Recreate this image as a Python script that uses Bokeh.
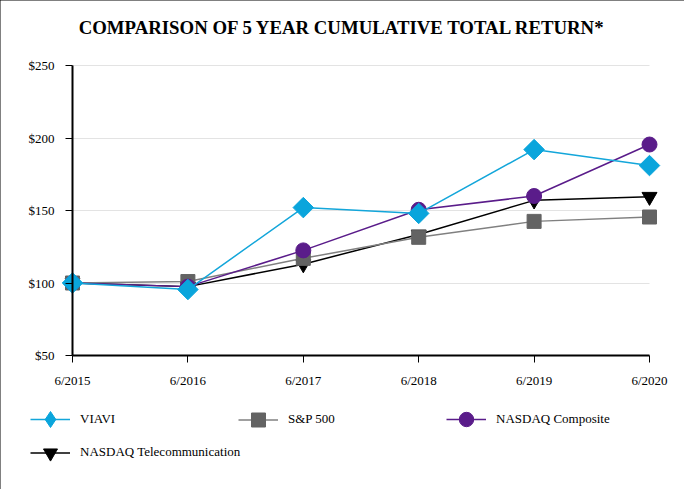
import math
from bokeh.plotting import figure
from bokeh.models import (FixedTicker, PrintfTickFormatter, Legend, LegendItem, Range1d, Label)
from bokeh.embed import file_html
from bokeh.resources import INLINE

years = [2015, 2016, 2017, 2018, 2019, 2020]
year_labels = ["6/2015", "6/2016", "6/2017", "6/2018", "6/2019", "6/2020"]
viavi = [100, 95.5, 152, 148, 192, 181]
sp500 = [100, 101, 117, 131.5, 142.5, 145.5]
nasdaq_comp = [100, 97.5, 122.5, 150.5, 160, 195.5]
nasdaq_tel = [100, 97.5, 113, 133.5, 157, 159.5]
y_ticks = [50, 100, 150, 200, 250]
series_names = ["VIAVI", "S&P 500", "NASDAQ Composite", "NASDAQ Telecommunication"]
title_text = "COMPARISON OF 5 YEAR CUMULATIVE TOTAL RETURN*"

FONT = "Liberation Serif"
W, H = 684, 489
# pixel layout of the plotting area inside the canvas
PX_LEFT, PX_RIGHT, PX_TOP, PX_BOTTOM = 72, 649, 65, 355
x0, x1 = years[0], years[-1]
y0, y1 = y_ticks[0], y_ticks[-1]
sx = (PX_RIGHT - PX_LEFT) / (x1 - x0)
sy = (PX_BOTTOM - PX_TOP) / (y1 - y0)
x_range = Range1d(x0 - PX_LEFT / sx, x1 + (W - PX_RIGHT) / sx)
y_range = Range1d(y0 - (H - PX_BOTTOM) / sy, y1 + PX_TOP / sy)

styles = {
    "VIAVI": dict(line="#13a6da", marker="square", size=14.5, angle=math.pi / 4,
                  fill="#0aa5dc", legend_marker="diamond", gh=42),
    "S&P 500": dict(line="#808080", marker="square", size=14, angle=0, fill="#636363",
                    legend_marker="square", gh=35),
    "NASDAQ Composite": dict(line="#5a1c8a", marker="circle", size=15, angle=0, fill="#5a1c8a",
                             legend_marker="circle", gh=36),
    "NASDAQ Telecommunication": dict(line="black", marker="inverted_triangle", size=15, angle=0,
                                     fill="black", legend_marker="inverted_triangle", gh=35),
}
data = {"VIAVI": viavi, "S&P 500": sp500, "NASDAQ Composite": nasdaq_comp,
        "NASDAQ Telecommunication": nasdaq_tel}

p = figure(width=W, height=H, output_backend="svg", toolbar_location=None,
           x_range=x_range, y_range=y_range, title_location=None,
           min_border_left=0, min_border_right=0, min_border_top=0, min_border_bottom=0)
p.outline_line_color = None
p.styles = {"outline": "2px solid black", "outline-offset": "-2px"}

# title
p.add_layout(Label(x=x0 + (342 - PX_LEFT) / sx, y=y1 + (PX_TOP - 27) / sy, text=title_text,
                   text_font=FONT, text_font_size="18.8px", text_font_style="bold",
                   text_color="black", text_align="center", text_baseline="middle"))

p.xgrid.grid_line_color = None
p.ygrid.grid_line_color = "#e3e3e3"
p.ygrid.grid_line_width = 1
p.ygrid.cross_bounds = (x0, x1)

p.xaxis.ticker = FixedTicker(ticks=years)
p.xaxis.major_label_overrides = {y: l for y, l in zip(years, year_labels)}
p.yaxis.ticker = FixedTicker(ticks=y_ticks)
p.yaxis.formatter = PrintfTickFormatter(format="$%d")
p.xaxis.fixed_location = y0
p.yaxis.fixed_location = x0
p.xaxis.bounds = (x0, x1)
p.yaxis.bounds = (y0, y1)
for ax in (p.xaxis, p.yaxis):
    ax.axis_line_color = "black"
    ax.axis_line_width = 2
    ax.major_tick_line_color = "black"
    ax.major_tick_line_width = 1
    ax.major_tick_out = 7
    ax.major_tick_in = 0
    ax.minor_tick_line_color = None
    ax.major_label_text_font = FONT
    ax.major_label_text_font_size = "13px"
    ax.major_label_text_font_style = "normal"
    ax.major_label_text_color = "black"
p.xaxis.major_label_standoff = 10
p.yaxis.major_label_standoff = 11

renderers = {}
# draw order: telecom, S&P, composite, VIAVI (VIAVI on top)
for name in ["NASDAQ Telecommunication", "S&P 500", "NASDAQ Composite", "VIAVI"]:
    st = styles[name]
    rl = p.line(years, data[name], line_color=st["line"], line_width=1.5)
    p.scatter(years, data[name], marker=st["marker"], size=st["size"], angle=st["angle"],
              fill_color=st["fill"], line_color=st["fill"])
    # legend key marker (size 0 on the plot; the legend sizes its key from its own box)
    rk = p.scatter(years, data[name], marker=st["legend_marker"], size=0,
                   fill_color=st["fill"], line_color=st["fill"])
    renderers[name] = [rl, rk]

row_centers = {"VIAVI": (30, 70), "S&P 500": (238, 70), "NASDAQ Composite": (446, 70),
               "NASDAQ Telecommunication": (30, 37)}
for name in series_names:
    gh = styles[name]["gh"]
    cx, cy = row_centers[name]
    lg = Legend(items=[LegendItem(label=name, renderers=renderers[name])],
                location=(cx, cy - gh / 2),
                padding=0, margin=0, border_line_color=None, background_fill_alpha=0,
                glyph_width=40, glyph_height=gh, label_standoff=10,
                label_text_font=FONT, label_text_font_size="13px",
                label_text_color="black")
    p.add_layout(lg, "center")

open("out.html", "w").write(file_html(p, INLINE))
